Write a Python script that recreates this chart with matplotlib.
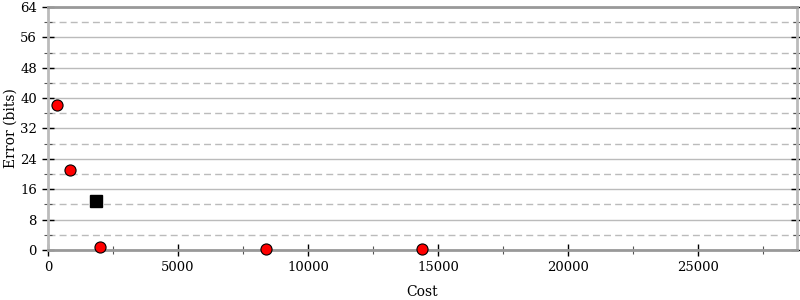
import matplotlib
matplotlib.use("Agg")
import matplotlib.pyplot as plt
from matplotlib.ticker import MultipleLocator

plt.rcParams['font.family'] = ['DejaVu Serif']

red_cost = [340, 850, 2000, 8400, 14380]
red_err = [38.2, 21.0, 0.7, 0.3, 0.3]
black_cost = [1850]
black_err = [12.9]

fig = plt.figure(figsize=(8, 3), dpi=100)
ax = fig.add_axes([0.06, 0.1667, 0.9363, 0.81])

ax.set_xlim(0, 28800)
ax.set_ylim(0, 64)
ax.xaxis.set_major_locator(MultipleLocator(5000))
ax.xaxis.set_minor_locator(MultipleLocator(2500))
ax.yaxis.set_major_locator(MultipleLocator(8))
ax.yaxis.set_minor_locator(MultipleLocator(4))

ax.grid(True, which='major', axis='y', color='#bbbbbb', linewidth=1, linestyle='-')
ax.grid(True, which='minor', axis='y', color='#bbbbbb', linewidth=1, linestyle=(0, (5, 3)))
ax.set_axisbelow(True)

for s in ['left', 'right']:
    ax.spines[s].set_color('#bbbbbb')
    ax.spines[s].set_linewidth(2)
ax.spines['top'].set_color('#999999')
ax.spines['top'].set_linewidth(2)
ax.spines['bottom'].set_color('#999999')
ax.spines['bottom'].set_linewidth(2)

ax.tick_params(axis='both', which='major', direction='inout', length=9, width=1, color='black', labelsize=9.5)
ax.tick_params(axis='both', which='minor', direction='inout', length=6, width=0.8, color='#555555')
ax.tick_params(axis='y', which='both', right=True, labelright=False)

ax.plot(red_cost, red_err, 'o', color='red', markeredgecolor='black', markeredgewidth=0.8, markersize=8, clip_on=False, zorder=3)
ax.plot(black_cost, black_err, 's', color='black', markersize=9, zorder=3)

ax.set_xlabel('Cost', fontsize=10, labelpad=8)
ax.set_ylabel('Error (bits)', fontsize=10)
ax.yaxis.set_label_coords(-0.041, 0.5)

fig.savefig('out.png', dpi=100)
